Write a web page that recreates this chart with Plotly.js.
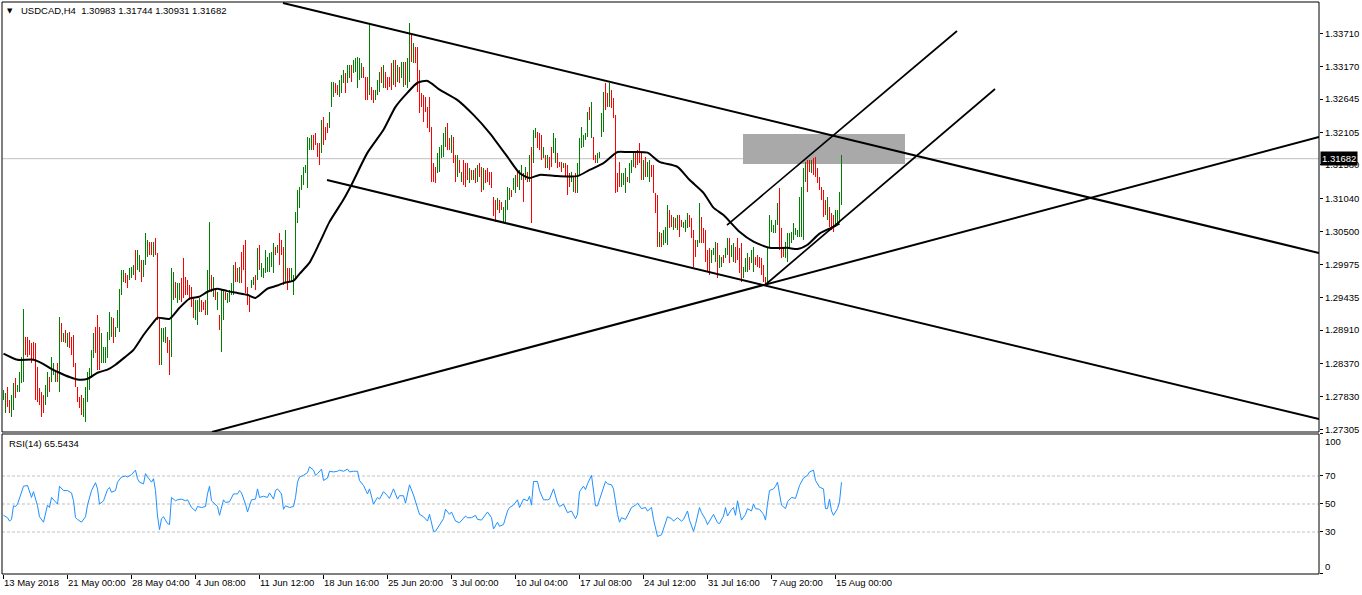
<!DOCTYPE html>
<html><head><meta charset="utf-8">
<script src="https://cdn.plot.ly/plotly-3.0.1.min.js"></script>
<style>html,body{margin:0;padding:0;background:#fff}#chart{width:1362px;height:595px}</style>
</head><body><div id="chart"></div>
<script>
// ---- data: USDCAD H4 bars (high / low / direction g=up r=down), bar index = H4 bar number ----
const barHigh=[
1.2794,1.2790,1.2799,1.2778,1.2786,1.2806,1.2814,1.2802,1.2823,1.2848,
1.2925,1.2880,1.2879,1.2875,1.2870,1.2872,1.2870,1.2832,1.2798,1.2791,
1.2786,1.2802,1.2823,1.2815,1.2848,1.2838,1.2823,1.2838,1.2912,1.2903,
1.2887,1.2891,1.2887,1.2888,1.2880,1.2883,1.2838,1.2799,1.2783,1.2786,
1.2781,1.2799,1.2823,1.2830,1.2859,1.2887,1.2896,1.2916,1.2896,1.2887,
1.2864,1.2864,1.2888,1.2920,1.2912,1.2911,1.2896,1.2924,1.2958,1.2988,
1.2988,1.2984,1.2980,1.2992,1.2993,1.2996,1.3021,1.3021,1.3013,1.3005,
1.3005,1.3048,1.3037,1.3034,1.3034,1.3034,1.3040,1.3016,1.2911,1.2895,
1.2895,1.2896,1.2880,1.2875,1.2992,1.2985,1.2969,1.2967,1.2967,1.2975,
1.3008,1.2977,1.2972,1.2964,1.2961,1.2943,1.2940,1.2940,1.2943,1.2940,
1.2937,1.2940,1.2988,1.3066,1.2980,1.2977,1.2956,1.2953,1.2916,1.2956,
1.2956,1.2953,1.2951,1.2956,1.2967,1.2996,1.3001,1.2992,1.2993,1.3018,
1.3029,1.3037,1.2961,1.2948,1.2972,1.2977,1.2980,1.3024,1.3029,1.3000,
1.2992,1.3021,1.3009,1.3016,1.3018,1.3032,1.3026,1.3029,1.3048,1.3037,
1.3026,1.3053,1.2992,1.2992,1.2992,1.2980,1.3082,1.3118,1.3123,1.3142,
1.3155,1.3158,1.3203,1.3202,1.3207,1.3207,1.3210,1.3194,1.3194,1.3231,
1.3236,1.3220,1.3226,1.3244,1.3292,1.3292,1.3291,1.3288,1.3296,1.3304,
1.3312,1.3307,1.3320,1.3320,1.3320,1.3328,1.3331,1.3333,1.3331,1.3323,
1.3317,1.3300,1.3300,1.3388,1.3284,1.3280,1.3280,1.3296,1.3309,1.3317,
1.3320,1.3309,1.3300,1.3300,1.3323,1.3328,1.3328,1.3320,1.3317,1.3325,
1.3325,1.3325,1.3331,1.3388,1.3372,1.3355,1.3349,1.3349,1.3312,1.3275,
1.3271,1.3268,1.3252,1.3268,1.3220,1.3161,1.3155,1.3178,1.3187,1.3191,
1.3210,1.3220,1.3226,1.3202,1.3207,1.3203,1.3174,1.3174,1.3166,1.3147,
1.3166,1.3161,1.3161,1.3153,1.3150,1.3150,1.3153,1.3158,1.3161,1.3155,
1.3153,1.3150,1.3153,1.3147,1.3147,1.3106,1.3102,1.3105,1.3102,1.3098,
1.3090,1.3102,1.3123,1.3121,1.3118,1.3137,1.3142,1.3147,1.3150,1.3158,
1.3145,1.3155,1.3147,1.3174,1.3187,1.3215,1.3218,1.3212,1.3210,1.3207,
1.3187,1.3174,1.3174,1.3171,1.3187,1.3210,1.3202,1.3178,1.3163,1.3163,
1.3161,1.3161,1.3158,1.3145,1.3147,1.3139,1.3145,1.3161,1.3202,1.3220,
1.3207,1.3210,1.3244,1.3252,1.3260,1.3203,1.3174,1.3178,1.3179,1.3242,
1.3276,1.3291,1.3275,1.3291,1.3280,1.3267,1.3239,1.3145,1.3163,1.3145,
1.3145,1.3153,1.3139,1.3161,1.3166,1.3179,1.3178,1.3182,1.3194,1.3178,
1.3166,1.3171,1.3163,1.3166,1.3158,1.3158,1.3113,1.3110,1.3050,1.3048,
1.3053,1.3058,1.3094,1.3085,1.3077,1.3074,1.3072,1.3077,1.3077,1.3069,
1.3066,1.3069,1.3081,1.3077,1.3072,1.3053,1.3037,1.3037,1.3097,1.3074,
1.3056,1.3053,1.3021,1.3024,1.3021,1.3024,1.3034,1.3032,1.3013,1.3009,
1.3013,1.3024,1.3040,1.3040,1.3029,1.3032,1.3026,1.3040,1.3024,1.3032,
1.2993,1.3008,1.3016,1.3009,1.3021,1.3026,1.3009,1.3013,1.3009,1.3008,
1.2996,1.2977,1.3026,1.3077,1.3069,1.3061,1.3069,1.3097,1.3121,1.3056,
1.3026,1.3034,1.3048,1.3048,1.3050,1.3064,1.3056,1.3053,1.3106,1.3123,
1.3153,1.3163,1.3166,1.3166,1.3166,1.3170,1.3171,1.3153,1.3139,1.3123,
1.3118,1.3102,1.3106,1.3090,1.3081,1.3077,1.3085,1.3085,1.3115,1.31744];
const barLow=[
1.2778,1.2757,1.2767,1.2757,1.2751,1.2762,1.2781,1.2791,1.2791,1.2806,
1.2807,1.2851,1.2848,1.2851,1.2838,1.2843,1.2778,1.2775,1.2770,1.2751,
1.2757,1.2770,1.2783,1.2791,1.2807,1.2819,1.2807,1.2807,1.2791,1.2872,
1.2872,1.2870,1.2864,1.2862,1.2851,1.2832,1.2799,1.2775,1.2765,1.2754,
1.2751,1.2743,1.2775,1.2794,1.2814,1.2846,1.2854,1.2827,1.2827,1.2838,
1.2838,1.2838,1.2846,1.2875,1.2880,1.2870,1.2880,1.2895,1.2888,1.2948,
1.2969,1.2967,1.2959,1.2972,1.2975,1.2980,1.2972,1.2988,1.2985,1.2969,
1.2977,1.2996,1.3009,1.3013,1.3013,1.3009,1.3013,1.2908,1.2835,1.2835,
1.2872,1.2870,1.2854,1.2819,1.2848,1.2940,1.2943,1.2935,1.2940,1.2937,
1.2943,1.2948,1.2948,1.2940,1.2929,1.2911,1.2908,1.2900,1.2920,1.2920,
1.2924,1.2916,1.2916,1.2953,1.2953,1.2945,1.2940,1.2924,1.2891,1.2856,
1.2908,1.2940,1.2935,1.2937,1.2948,1.2948,1.2969,1.2969,1.2967,1.2967,
1.2988,1.2951,1.2932,1.2920,1.2959,1.2964,1.2956,1.2972,1.2988,1.2977,
1.2975,1.2984,1.2985,1.2985,1.2993,1.2984,1.3013,1.3016,1.2996,1.3013,
1.2964,1.2969,1.2956,1.2969,1.2969,1.2948,1.2975,1.3064,1.3089,1.3118,
1.3126,1.3145,1.3121,1.3182,1.3182,1.3182,1.3191,1.3171,1.3158,1.3178,
1.3191,1.3199,1.3210,1.3218,1.3252,1.3268,1.3275,1.3271,1.3268,1.3275,
1.3291,1.3275,1.3291,1.3299,1.3292,1.3307,1.3309,1.3283,1.3296,1.3299,
1.3299,1.3263,1.3263,1.3271,1.3263,1.3258,1.3263,1.3271,1.3276,1.3291,
1.3283,1.3283,1.3280,1.3284,1.3280,1.3288,1.3284,1.3292,1.3291,1.3299,
1.3284,1.3288,1.3283,1.3292,1.3325,1.3323,1.3323,1.3276,1.3242,1.3252,
1.3228,1.3244,1.3218,1.3212,1.3131,1.3131,1.3129,1.3145,1.3147,1.3170,
1.3171,1.3187,1.3182,1.3182,1.3178,1.3161,1.3131,1.3139,1.3145,1.3131,
1.3126,1.3123,1.3134,1.3129,1.3134,1.3134,1.3129,1.3131,1.3139,1.3115,
1.3118,1.3129,1.3131,1.3126,1.3121,1.3076,1.3066,1.3085,1.3081,1.3085,
1.3066,1.3066,1.3085,1.3102,1.3106,1.3118,1.3113,1.3123,1.3118,1.3134,
1.3098,1.3134,1.3131,1.3131,1.3064,1.3161,1.3202,1.3186,1.3182,1.3166,
1.3170,1.3153,1.3153,1.3150,1.3155,1.3178,1.3161,1.3153,1.3155,1.3147,
1.3153,1.3139,1.3110,1.3123,1.3131,1.3115,1.3113,1.3113,1.3142,1.3186,
1.3187,1.3199,1.3203,1.3231,1.3202,1.3166,1.3161,1.3161,1.3170,1.3203,
1.3212,1.3247,1.3252,1.3252,1.3250,1.3234,1.3113,1.3115,1.3123,1.3123,
1.3126,1.3113,1.3131,1.3129,1.3145,1.3155,1.3153,1.3158,1.3161,1.3134,
1.3134,1.3139,1.3139,1.3131,1.3139,1.3113,1.3081,1.3026,1.3026,1.3026,
1.3029,1.3032,1.3029,1.3056,1.3058,1.3053,1.3056,1.3053,1.3042,1.3058,
1.3056,1.3050,1.3056,1.3058,1.3040,1.2993,1.3009,1.3026,1.3032,1.3032,
1.3032,1.3001,1.2985,1.2980,1.3000,1.3013,1.3001,1.2975,1.2992,1.2993,
1.3000,1.3008,1.3013,1.3000,1.3009,1.3001,1.3000,1.3005,1.2984,1.2969,
1.2975,1.2985,1.2985,1.2988,1.3000,1.2985,1.2996,1.2993,1.2992,1.2980,
1.2969,1.2964,1.2964,1.3024,1.3050,1.3048,1.3048,1.3061,1.3021,1.3008,
1.3009,1.3008,1.3001,1.3026,1.3032,1.3037,1.3045,1.3042,1.3042,1.3042,
1.3037,1.3131,1.3115,1.3147,1.3145,1.3142,1.3139,1.3129,1.3118,1.3102,
1.3074,1.3077,1.3069,1.3058,1.3053,1.3050,1.3058,1.3061,1.3064,1.30931];
const barDir=("ggrrggrggg"+"grrrrrrrrr"+"rggrgggrgr"+"grgrrrrrrr"+"ggggggrrrg"+
"gggggrgggg"+"grrgggrggr"+"gggrrgrrrg"+"ggrrggrggr"+"rrrrrrgggr"+
"rrggrgrgrg"+"grggggrrgr"+"rrrrggrgrg"+"ggggggrgrr"+"rgrrgggggg"+
"gggggrrrrg"+"rrrgggrrgg"+"grggrggggg"+"rrrgrrgggr"+"grrrrgrgrg"+
"grggrgrrrr"+"rrrrrrrggg"+"ggrrgrrgrg"+"rrrgrgrgrr"+"grrrrrrgrr"+
"ggggrggrgg"+"rgrgrggrrr"+"grgrrggrrr"+"grrrggrggg"+"gggrgrrggg"+
"grrgrrrrrg"+"ggrgggrrrr"+"grggrrrrgr"+"gggrrgrgrr"+"gggrrrrggr"+
"rrrrgggrgg"+"rggrggrrrr"+"gggrggrrrr"+"rrggggggrr"+"rggggggggg"+
"ggrrgrrrrr"+"rrgrrrgggg").split("");

// moving average (black line)
const maBar=[0,7,15,20,23,28,33,37,42,47,52,56,61,65,70,75,77,83,88,93,98,102,107,112,117,122,126,132,137,140,
145,148,153,158,163,170,174,182,190,196,202,207,212,218,227,235,243,252,258,263,268,277,287,293,300,307,312,322,328,337,
343,350,355,360,368,375,383,392,397,402,408,415,418];
const maVal=[1.2853,1.2843,1.2843,1.2836,1.2830,1.2822,1.2815,1.2811,1.2812,1.2822,1.2827,1.2835,1.2848,1.2859,1.2883,1.2904,1.2911,1.2909,1.2927,1.2942,
1.2945,1.2953,1.2958,1.2954,1.2951,1.2948,1.2943,1.2958,1.2963,1.2967,1.2971,1.2982,1.3000,1.3032,1.3066,1.3102,1.3126,1.3178,1.3215,1.3252,
1.3275,1.3291,1.3294,1.3280,1.3263,1.3239,1.3210,1.3171,1.3145,1.3137,1.3142,1.3140,1.3140,1.3150,1.3161,1.3179,1.3179,1.3178,1.3163,1.3155,
1.3134,1.3113,1.3089,1.3077,1.3050,1.3034,1.3024,1.3024,1.3022,1.3029,1.3047,1.3058,1.3063];

// RSI(14)
const rsiBar=[
0,2,3,4,5,6,7,9,10,12, 13,14,15,17,18,20,22,23,24,26, 27,28,30,32,34,35,36,37,39,41,
42,44,46,47,48,50,52,53,54,56, 57,59,61,62,64,66,67,68,70,71, 72,74,75,76,77,78,79,80,82,83,
84,86,87,89,91,92,94,96,97,99, 101,102,103,104,106,107,108,110,111,113, 115,117,118,119,121,122,124,126,127,128,
130,132,133,135,136,137,139,140,141,143, 145,146,147,148,150,152,153,155,156,157, 159,160,162,163,165,167,168,170,172,173,
175,177,178,180,182,183,185,187,188,190, 192,193,195,197,198,200,201,203,205,207, 208,210,212,213,215,216,218,220,221,223,
224,226,228,231,232,234,236,237,239,241, 242,244,245,247,248,250,252,253,255,257, 258,260,262,263,264,265,267,268,270,272,
273,275,277,278,280,282,284,286,287,288, 290,291,292,294,295,296,297,299,301,302, 304,305,307,308,309,311,312,314,316,317,
319,321,322,324,325,326,327,329,330,332, 334,335,337,339,340,342,343,345,346,348, 349,351,352,354,355,357,358,360,361,362,
364,365,366,367,368,369,371,372,374,375, 376,378,380,381,382,383,385,386,387,389, 391,392,394,396,398,400,402,403,405,406,
408,410,411,412,413,414,415,417,418,419];
const rsiVal=[
41.9,40.2,37.8,39,48.7,48.2,49.9,58.4,62.7,63.2, 58.4,54.7,58.8,48.7,40.9,37,49.2,47.5,54.7,51.6, 49.9,62.7,59.6,59.6,57.9,52.3,40.2,39,37,40.9,
49.2,59.6,65.2,60.8,49.9,52.3,60.3,61.8,58.4,59.6, 65.6,69.3,70,69.3,71,74.2,68.1,65.6,64.4,71.7, 69.3,65.6,68.1,59.6,41.4,31.7,39.5,40.9,36,35.3,
54.7,52.3,53,53.5,52.3,53,47.5,45,48.2,47.5, 48.2,57.2,62.7,52.3,49.9,48.2,41.9,53,51.1,51.6, 57.2,57.2,59.6,57.9,49.9,44.3,53,53.5,60.8,54.7,
55.5,54.7,57.9,53.5,59.6,60.8,57.2,46.2,48.7,47.5, 48.2,54.7,65.6,69.3,70.5,72.4,76.6,74.2,70.5,71.7, 74.9,66.8,68.5,73.4,72.9,73.4,74.2,73.4,74.9,72.9,
73.4,73.4,66.8,63.2,57.2,60.8,49.9,54.7,53.5,58.8, 55.9,54,60.8,53.5,55.9,55.9,50.6,63.7,56.4,46.2, 42.6,40.9,37.8,42.6,30.5,30.5,35.3,39.5,46.2,42.6,
44.3,37.8,36.6,41.4,40.2,40.2,41.9,39,38.5,41.9, 44.3,40.2,32.2,37,34.1,35.3,45,47.5,49.2,53, 47.5,53.5,52.3,55.5,49.2,66.1,66.1,59.6,53,53,
53.5,60.8,50.6,48.2,49.9,43.8,45,39.5,42.6,58.8, 62.7,60.3,64.4,70.5,57.2,48.7,48.7,57.2,66.1,64.4, 63.7,60.8,42.6,37,40.2,39,41.9,47.5,49.2,50.6,
46.7,47.5,45,47.5,39,31.7,26.8,28,32.2,40.9, 39.5,37.8,40.2,37.8,39,45,38.5,30.5,35.3,47.5, 43.8,39,35.3,40.2,42.6,36.6,36,41.4,47.5,41.4,
46.2,47.5,41.9,52.3,43.8,38.5,42.6,46.7,45,49.9, 46.7,46.2,42.6,38.5,49.9,59.6,60.8,62.7,65.6,49.2, 46.7,51.6,54.7,54,63.2,68.5,70.5,72.9,74.2,66.8,
62,60.8,46.7,46.7,53.5,45,41.9,46.7,51.6,65.5434];

// time axis labels (bar index of each label)
const timeTickBars=[0,32,64,96,128,160,192,224,256,288,320,352,384,416];
const timeTickText=["13 May 2018","21 May 00:00","28 May 04:00","4 Jun 08:00","11 Jun 12:00","18 Jun 16:00","25 Jun 20:00",
"3 Jul 00:00","10 Jul 04:00","17 Jul 08:00","24 Jul 12:00","31 Jul 16:00","7 Aug 20:00","15 Aug 00:00"];
const priceTicks=[1.27305,1.2783,1.2837,1.2891,1.29435,1.29975,1.305,1.3104,1.3158,1.32105,1.32645,1.3317,1.3371];
const rsiTicks=[0,30,50,70,100];
const rsiLevels=[30,50,70];
const lastOHLC=[1.30983,1.31744,1.30931,1.31682];
const rsiLast=65.5434;
// analyst drawings: [bar0, price0, bar1, price1]
const trendLines=[
 [139.75,1.3420,657.75,1.30157],
 [161.75,1.31337,657.75,1.27472],
 [104.25,1.27261,657.75,1.32033],
 [380.75,1.29639,495.75,1.32809],
 [361.75,1.30609,476.75,1.33747]];
const zoneBars=[369.75,450.75];
const zonePrices=[1.31596,1.32081];

// ---- drawing ----
const FONT="Liberation Sans, Arial, sans-serif";
const idx=barHigh.map((_,i)=>i);
const bars={type:'bar',x:idx,base:barLow,y:barHigh.map((h,i)=>h-barLow[i]),width:0.45,
  marker:{color:barDir.map(d=>d==='g'?'#008000':'#ff0000'),line:{width:0}},
  xaxis:'x',yaxis:'y',hoverinfo:'skip',showlegend:false};
const ma={type:'scatter',mode:'lines',x:maBar,y:maVal,line:{color:'#000',width:2,shape:'spline',smoothing:0.6},
  xaxis:'x',yaxis:'y',hoverinfo:'skip',showlegend:false};
const rsi={type:'scatter',mode:'lines',x:rsiBar,y:rsiVal,line:{color:'#1e90ff',width:1},
  xaxis:'x',yaxis:'y2',hoverinfo:'skip',showlegend:false};

const shapes=[
 {type:'line',xref:'paper',x0:0,x1:1,yref:'y',y0:lastOHLC[3],y1:lastOHLC[3],line:{color:'#c0c0c0',width:1},layer:'below'},
 {type:'rect',xref:'x',yref:'y',x0:zoneBars[0],x1:zoneBars[1],y0:zonePrices[0],y1:zonePrices[1],fillcolor:'#a9a9a9',line:{width:0},layer:'below'}
];
trendLines.forEach((l,k)=>shapes.push({type:'line',xref:'x',yref:'y',x0:l[0],y0:l[1],x1:l[2],y1:l[3],
  line:{color:'#000',width:k>=3?1.7:2}}));
rsiLevels.forEach(v=>shapes.push({type:'line',xref:'paper',x0:0,x1:1,yref:'y2',y0:v,y1:v,
  line:{color:'#c0c0c0',width:1,dash:'3px,2px'},layer:'below'}));
shapes.push({type:'rect',xref:'paper',yref:'y domain',x0:0,x1:1,y0:0,y1:1,line:{color:'#000',width:1}});
shapes.push({type:'rect',xref:'paper',yref:'y2 domain',x0:0,x1:1,y0:0,y1:1,line:{color:'#000',width:1}});

const tf={family:FONT,size:9.5,color:'#000'};
// RSI scale: end labels (0 / 100) drawn just inside the pane, as the terminal does
const rsiEndLabels=[rsiTicks[0],rsiTicks[rsiTicks.length-1]];
const layout={
 width:1362,height:595,margin:{l:2,r:43,t:2,b:21},
 paper_bgcolor:'#fff',plot_bgcolor:'#fff',showlegend:false,bargap:0,
 xaxis:{range:[-0.75,657.75],anchor:'y2',tickvals:timeTickBars,ticktext:timeTickText,ticks:'outside',ticklen:4,
   tickcolor:'#000',tickangle:0,ticklabelposition:'outside right',showgrid:false,zeroline:false,showline:false,
   tickfont:tf,fixedrange:true},
 yaxis:{domain:[0.24825,1],range:[1.272614,1.342163],side:'right',anchor:'x',tickvals:priceTicks,
   ticktext:priceTicks.map(v=>v.toFixed(5)),ticks:'outside',ticklen:3,tickcolor:'#000',showgrid:false,
   zeroline:false,showline:false,tickfont:tf,fixedrange:true},
 yaxis2:{domain:[0,0.24476],range:[0,100],side:'right',anchor:'x',tickvals:rsiTicks,
   ticktext:rsiTicks.map(v=>rsiEndLabels.includes(v)?'':String(v)),ticks:'outside',ticklen:3,
   tickcolor:'#000',showgrid:false,zeroline:false,showline:false,tickfont:tf,fixedrange:true},
 shapes:shapes,
 annotations:[
  {xref:'paper',yref:'paper',x:0.0061,y:0.9843,xanchor:'center',yanchor:'middle',text:'\u25BC',showarrow:false,
   font:{family:'DejaVu Sans',size:7,color:'#000'}},
  {xref:'paper',yref:'paper',x:0.0129,y:0.9843,xanchor:'left',yanchor:'middle',showarrow:false,font:tf,
   text:'USDCAD,H4\u00a0\u00a0'+lastOHLC.map(v=>v.toFixed(5)).join(' ')},
  {xref:'paper',yref:'paper',x:0.0038,y:0.2273,xanchor:'left',yanchor:'middle',showarrow:false,font:tf,
   text:'RSI(14) '+rsiLast.toFixed(4)},
  {xref:'paper',x:1,xanchor:'left',xshift:1,yref:'y',y:lastOHLC[3],yanchor:'middle',showarrow:false,
   text:lastOHLC[3].toFixed(5),font:{family:FONT,size:9.5,color:'#fff'},bgcolor:'#000',borderpad:1},
  {xref:'paper',x:1,xanchor:'left',xshift:4,yref:'y2',y:rsiEndLabels[1],yshift:-8,yanchor:'middle',showarrow:false,
   text:String(rsiEndLabels[1]),font:tf},
  {xref:'paper',x:1,xanchor:'left',xshift:4,yref:'y2',y:rsiEndLabels[0],yshift:7,yanchor:'middle',showarrow:false,
   text:String(rsiEndLabels[0]),font:tf}
 ]
};
Plotly.newPlot('chart',[bars,ma,rsi],layout,{displayModeBar:false,responsive:false});
</script></body></html>
